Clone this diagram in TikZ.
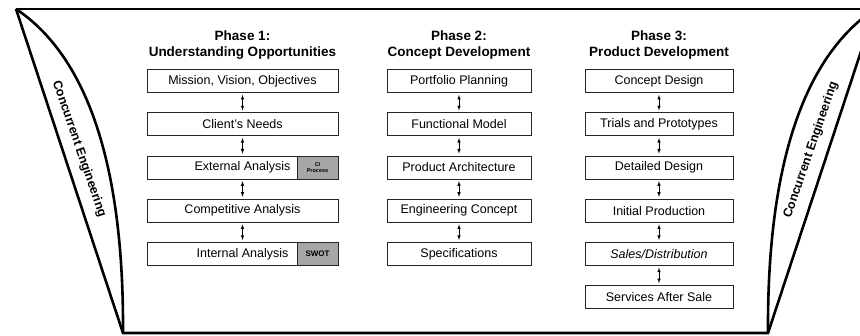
\documentclass[tikz,border=0pt]{standalone}
\usepackage{fontspec}
\usepackage{tikz}
\setmainfont{Liberation Sans}
\usetikzlibrary{arrows}
\definecolor{tagGray}{RGB}{166,166,166}
\tikzstyle{stage}  = [rectangle, draw=black!85, line width=0.6pt, inner sep=0pt,
minimum height=23pt, font=\fontsize{12.5}{14}\selectfont]
\tikzstyle{head}   = [align=center, font=\bfseries\fontsize{13.5}{16}\selectfont]
\tikzstyle{tag}    = [rectangle, draw=black!85, fill=tagGray, line width=0.6pt,
inner sep=0pt, minimum width=41pt, minimum height=23pt, align=center]
\tikzstyle{arrow}  = [<->, >=latex, line width=0.6pt, shorten <=2pt, shorten >=2pt]
\tikzstyle{funnel} = [line width=2.6pt, line join=miter]
\tikzstyle{ce}     = [font=\bfseries\fontsize{12.5}{14}\selectfont]

\begin{document}
\begin{tikzpicture}[x=1pt, y=-1pt, node distance=43.2pt]
      \useasboundingbox (0,0) rectangle (860,336);
      \clip (0,0) rectangle (860,336);

      % frame with the two funnels
      \coordinate (TL) at (16,9);
      \coordinate (TR) at (875,9);
      \coordinate (BL) at (123,333);
      \coordinate (BR) at (768,333);
      \draw [funnel] (TL) -- (TR);
      \draw [funnel] (TL) -- (BL) -- (BR) -- (TR);
      \draw [funnel] (TL) .. controls (85,55) and (124,160) .. (BL);
      \draw [funnel] (TR) .. controls (806,55) and (767,160) .. (BR);
      \node(CeL) [ce, rotate=-71] at (79,149)  {Concurrent Engineering};
      \node(CeR) [ce, rotate=71]  at (811,150) {Concurrent Engineering};

      % phase 1
      \node(H1)  [head] at (242.5,45) {Phase 1:\\Understanding Opportunities};
      \node(Mvo) [stage, minimum width=191pt] at (242.5,81) {Mission, Vision, Objectives};
      \node(Cn)  [stage, minimum width=191pt, below of = Mvo] {Client's Needs};
      \node(Ea)  [stage, minimum width=191pt, below of = Cn ] {External Analysis};
      \node(Ca)  [stage, minimum width=191pt, below of = Ea ] {Competitive Analysis};
      \node(Ia)  [stage, minimum width=191pt, below of = Ca ] {Internal Analysis};
      \node(Cip) [tag, anchor=east, font=\bfseries\fontsize{5.5}{6}\selectfont] at (Ea.east) {CI\\Process};
      \node(Sw)  [tag, anchor=east, font=\bfseries\fontsize{8}{9}\selectfont] at (Ia.east) {SWOT};

      % phase 2
      \node(H2)  [head] at (459,45) {Phase 2:\\Concept Development};
      \node(Pp)  [stage, minimum width=144pt] at (459,81) {Portfolio Planning};
      \node(Fm)  [stage, minimum width=144pt, below of = Pp] {Functional Model};
      \node(Pa)  [stage, minimum width=144pt, below of = Fm] {Product Architecture};
      \node(Ec)  [stage, minimum width=144pt, below of = Pa] {Engineering Concept};
      \node(Sp)  [stage, minimum width=144pt, below of = Ec] {Specifications};

      % phase 3
      \node(H3)  [head] at (659,45) {Phase 3:\\Product Development};
      \node(Cd)  [stage, minimum width=148pt] at (659,81) {Concept Design};
      \node(Tp)  [stage, minimum width=148pt, below of = Cd] {Trials and Prototypes};
      \node(Dd)  [stage, minimum width=148pt, below of = Tp] {Detailed Design};
      \node(Ip)  [stage, minimum width=148pt, below of = Dd] {Initial Production};
      \node(Sd)  [stage, minimum width=148pt, below of = Ip] {\itshape Sales/Distribution};
      \node(Sas) [stage, minimum width=148pt, below of = Sd] {Services After Sale};

      \draw [arrow] (Mvo) -- (Cn);
      \draw [arrow] (Cn)  -- (Ea);
      \draw [arrow] (Ea)  -- (Ca);
      \draw [arrow] (Ca)  -- (Ia);
      \draw [arrow] (Pp)  -- (Fm);
      \draw [arrow] (Fm)  -- (Pa);
      \draw [arrow] (Pa)  -- (Ec);
      \draw [arrow] (Ec)  -- (Sp);
      \draw [arrow] (Cd)  -- (Tp);
      \draw [arrow] (Tp)  -- (Dd);
      \draw [arrow] (Dd)  -- (Ip);
      \draw [arrow] (Ip)  -- (Sd);
      \draw [arrow] (Sd)  -- (Sas);
    \end{tikzpicture}
\end{document}
